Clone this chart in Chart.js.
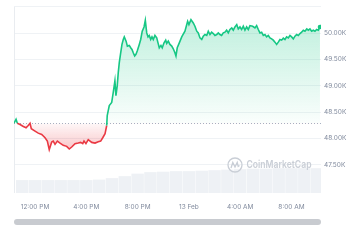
<!DOCTYPE html>
<html><head><meta charset="utf-8">
<script src="https://cdn.jsdelivr.net/npm/chart.js@4.4.0/dist/chart.umd.min.js"></script>
<style>html,body{margin:0;padding:0;background:#fff;overflow:hidden}</style>
</head><body>
<canvas id="c" width="360" height="240"></canvas>
<script>
// hours since 00:00 on 12 Feb
const times = [10.36,10.52,10.62,10.83,11.09,11.30,11.47,11.61,11.71,12.00,12.25,12.52,12.78,12.96,13.11,13.30,13.42,13.56,13.74,13.95,14.20,14.47,14.67,14.86,15.12,15.37,15.56,15.72,15.82,15.97,16.15,16.42,16.68,16.93,17.12,17.28,17.46,17.59,17.63,17.79,17.98,18.10,18.23,18.31,18.41,18.49,18.57,18.68,18.78,18.88,18.96,19.10,19.20,19.35,19.46,19.56,19.66,19.77,19.87,19.97,20.13,20.24,20.36,20.50,20.60,20.71,20.81,20.91,21.02,21.12,21.22,21.35,21.49,21.59,21.69,21.82,21.92,22.06,22.19,22.27,22.39,22.52,22.66,22.78,22.91,22.99,23.09,23.25,23.44,23.69,23.90,24.00,24.16,24.34,24.47,24.61,24.73,24.86,25.00,25.12,25.25,25.39,25.51,25.64,25.77,25.90,26.03,26.17,26.29,26.42,26.55,26.68,26.81,26.94,27.07,27.20,27.34,27.46,27.59,27.73,27.85,27.98,28.11,28.24,28.37,28.50,28.63,28.76,28.97,29.15,29.28,29.41,29.54,29.67,29.80,29.93,30.06,30.19,30.32,30.45,30.58,30.71,30.84,30.97,31.10,31.23,31.36,31.49,31.62,31.75,31.88,32.01,32.14,32.27,32.40,32.53,32.66,32.79,32.92,33.05,33.19,33.31,33.44,33.57,33.70,33.83,33.96,34.09,34.22];
const prices = [48289,48364,48289,48264,48226,48202,48245,48289,48183,48138,48100,48075,48013,47949,47787,47930,47949,47887,47949,47911,47868,47849,47798,47836,47900,47911,47924,47900,47949,47900,47975,47924,47911,47938,47949,48013,48089,48245,48434,48623,48685,48874,49094,48811,49000,49251,49440,49628,49787,49881,49930,49849,49755,49768,49723,49692,49628,49566,49598,49660,49787,49881,50038,50119,50245,50006,49930,49957,49881,49930,49881,49957,49911,49817,49723,49768,49723,49817,49868,49806,49849,49787,49755,49704,49628,49566,49723,49817,49930,50038,50226,50164,50258,50194,50132,50038,50006,49911,49881,49943,49975,49957,50038,49975,50019,49994,49957,49975,50006,49975,49957,50006,50019,50057,50006,50070,50100,50057,50119,50164,50081,50119,50070,50132,50057,50119,50070,50145,50132,50100,50145,50070,50006,50019,49957,49975,49930,49957,49911,49892,49868,49830,49787,49830,49881,49868,49906,49881,49930,49911,49957,49930,49892,49943,49975,49957,49994,50019,50057,50038,50081,50057,50081,50038,50057,50038,50070,50057,50119];
const openPrice = 48285;
const volHours = [11,12,13,14,15,16,17,18,19,20,21,22,23,24,25,26,27,28,29,30,31,32,33,34];
const volumes = [3.47,3.47,3.47,3.47,3.47,3.47,3.6,4.0,4.53,5.2,5.6,5.73,5.87,5.87,6.0,6.13,6.27,6.4,6.53,6.53,6.67,6.67,6.67,6.67];
const xTickHours = [12,16,20,24,28,32];
const xTickLabels = ['12:00 PM','4:00 PM','8:00 PM','13 Feb','4:00 AM','8:00 AM'];
const yTickValues = [47500,48000,48500,49000,49500,50000,50500];
const yTickLabels = ['47.50K','48.00K','48.50K','49.00K','49.50K','50.00K',''];
const watermarkText = 'CoinMarketCap';

const GREEN = '#16c784', RED = '#ea3943', LABEL = '#808a9d';
const n = Math.min(times.length, prices.length);
const lineData = [];
for (let i = 0; i < n; i++) lineData.push({x: times[i], y: prices[i]});
const volData = volHours.map((h, i) => ({x: h, y: volumes[i]}));

function fillGradient(ctx) {
  const chart = ctx.chart; const area = chart.chartArea;
  if (!area) return 'rgba(0,0,0,0)';
  const ys = chart.scales.y;
  const g = chart.ctx.createLinearGradient(0, area.top, 0, area.bottom);
  const h = area.bottom - area.top;
  const b = Math.min(Math.max((ys.getPixelForValue(openPrice) - area.top) / h, 0), 1);
  const lo = Math.min(Math.max((ys.getPixelForValue(47800) - area.top) / h, b), 1);
  g.addColorStop(0, 'rgba(22,199,132,0.30)');
  g.addColorStop(b, 'rgba(22,199,132,0.02)');
  g.addColorStop(b, 'rgba(234,57,67,0.04)');
  g.addColorStop(lo, 'rgba(234,57,67,0.28)');
  g.addColorStop(1, 'rgba(234,57,67,0.28)');
  return g;
}

const extras = {
  id: 'extras',
  beforeDatasetsDraw(chart) {
    const {ctx, chartArea: a, scales} = chart;
    ctx.save();
    ctx.strokeStyle = '#e9ecf0'; ctx.lineWidth = 1;
    ctx.beginPath(); ctx.moveTo(a.left + 0.5, a.top); ctx.lineTo(a.left + 0.5, a.bottom); ctx.stroke();
    const yb = Math.round(scales.y.getPixelForValue(openPrice)) + 0.5;
    ctx.strokeStyle = '#a7b1c2'; ctx.setLineDash([1, 2]);
    ctx.beginPath(); ctx.moveTo(a.left, yb); ctx.lineTo(a.right, yb); ctx.stroke();
    ctx.restore();
  },
  afterDraw(chart) {
    const {ctx, chartArea: a} = chart;
    ctx.save();
    const cx = 235, cy = 165;
    ctx.strokeStyle = '#c9ced6'; ctx.lineWidth = 1.3;
    ctx.beginPath(); ctx.arc(cx, cy, 7, 0, Math.PI * 2); ctx.stroke();
    ctx.beginPath();
    ctx.moveTo(cx - 4, cy + 3); ctx.lineTo(cx - 2.2, cy - 2.5); ctx.lineTo(cx, cy + 2);
    ctx.lineTo(cx + 2.2, cy - 2.5); ctx.lineTo(cx + 3.2, cy + 1.5); ctx.lineTo(cx + 4.5, cy + 0.5);
    ctx.stroke();
    ctx.fillStyle = '#c9ced6';
    ctx.font = '600 10.5px Inter';
    ctx.textBaseline = 'middle';
    const w = ctx.measureText(watermarkText).width;
    ctx.translate(246.5, cy);
    ctx.scale(65 / w, 1);
    ctx.fillText(watermarkText, 0, 0);
    ctx.restore();
    ctx.save();
    ctx.fillStyle = '#c8cbd0';
    ctx.beginPath();
    ctx.roundRect(a.left, 219, a.right - a.left, 6, 3);
    ctx.fill();
    ctx.restore();
  }
};

new Chart(document.getElementById('c'), {
  data: {
    datasets: [
      {
        type: 'line', data: lineData, order: 1, yAxisID: 'y',
        borderWidth: 1.6, tension: 0,
        pointRadius: c => c.dataIndex === n - 1 ? 2.3 : 0,
        pointBackgroundColor: GREEN, pointBorderWidth: 0,
        fill: {target: {value: openPrice}},
        backgroundColor: fillGradient,
        borderColor: GREEN,
        segment: {borderColor: c => ((c.p0.parsed.y + c.p1.parsed.y) / 2 >= openPrice ? GREEN : RED)}
      },
      {
        type: 'bar', data: volData, order: 2, yAxisID: 'yVol',
        backgroundColor: '#eef1f5', borderWidth: 0,
        barPercentage: 0.97, categoryPercentage: 1
      }
    ]
  },
  options: {
    responsive: false, animation: false, devicePixelRatio: 1,
    layout: {padding: {left: 14, top: 5, right: 0, bottom: 0}},
    plugins: {legend: {display: false}, tooltip: {enabled: false}},
    scales: {
      x: {
        type: 'linear', min: 10.36, max: 34.3, offset: false,
        grid: {display: false, drawTicks: false}, border: {display: false},
        afterBuildTicks: s => { s.ticks = xTickHours.map(v => ({value: v})); },
        afterFit: s => { s.height = 47; },
        ticks: {autoSkip: false, maxRotation: 0, padding: 10, color: LABEL,
          font: {family: 'Inter', size: 6.5},
          callback: (v, i) => xTickLabels[i]}
      },
      y: {
        position: 'right', min: 46962, max: 50500,
        grid: {color: '#eff2f5', drawTicks: false, lineWidth: 1}, border: {display: false},
        afterBuildTicks: s => { s.ticks = yTickValues.map(v => ({value: v})); },
        afterFit: s => { s.width = 39; },
        ticks: {padding: 3, color: LABEL, font: {family: 'Inter', size: 6.5},
          callback: (v, i) => yTickLabels[i]}
      },
      yVol: {display: false, min: 0, max: 50}
    }
  },
  plugins: [extras]
});
</script>
</body></html>
